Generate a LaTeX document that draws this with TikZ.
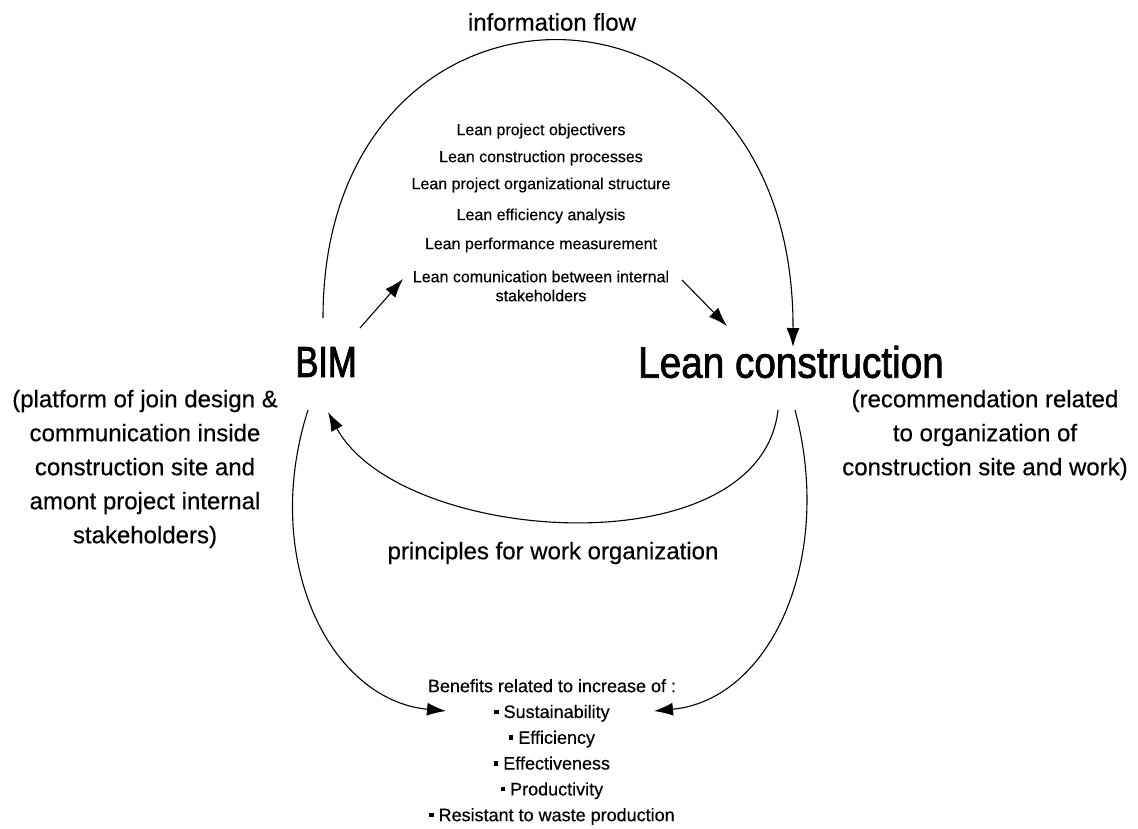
\documentclass[tikz,border=0pt]{standalone}
\usepackage{fontspec}
\setmainfont{Liberation Sans}[FakeBold=0.4]
\newfontfamily\bigfont{Liberation Sans}[FakeStretch=0.88,FakeBold=1.6]
\newfontfamily\bimfont{Liberation Sans}[FakeStretch=0.8,FakeBold=2.2]
\usetikzlibrary{arrows.meta}
\tikzset{
  lbl/.style={inner sep=0pt, align=center, text=black},
  item/.style={lbl, font=\fontsize{16}{19}\selectfont},
  conn/.style={line width=1.1pt, black, -{Latex[length=19pt,width=13pt]}},
}
\newcommand{\sqb}{\rule[0.22em]{0.24em}{0.24em}\ }
\begin{document}
\begin{tikzpicture}[x=1pt,y=-1pt]
\useasboundingbox[fill=white] (0,0) rectangle (1138,828);

% titles
\node[lbl, font=\fontsize{24}{28}\selectfont] (flow) at (552,22) {information flow};
\node[lbl, font=\bimfont\fontsize{43}{50}\selectfont] (bim) at (326,362) {BIM};
\node[lbl, font=\bigfont\fontsize{44}{50}\selectfont] (lean) at (791,362) {Lean construction};

% list
\node[item] (l1) at (541,131) {Lean project objectivers};
\node[item] (l2) at (541,158) {Lean construction processes};
\node[item] (l3) at (541,185) {Lean project organizational structure};
\node[item] (l4) at (541,216) {Lean efficiency analysis};
\node[item] (l5) at (541,245) {Lean performance measurement};
\node[item] (l6) at (541,286) {Lean comunication between internal\\stakeholders};

% side texts
\node[lbl, font=\fontsize{24}{34}\selectfont] (ptext) at (145,469)
  {(platform of join design \&\\communication inside\\construction site and\\amont project internal\\stakeholders)};
\node[lbl, font=\fontsize{24}{34}\selectfont] (rtext) at (985,435)
  {(recommendation related\\to organization of\\construction site and work)};
\node[lbl, font=\fontsize{24}{28}\selectfont] (princ) at (553,553) {principles for work organization};

% benefits
\node[lbl, font=\fontsize{18}{25.8}\selectfont] (ben) at (552,752)
  {Benefits related to increase of :\\\sqb Sustainability\\\sqb Efficiency\\\sqb Effectiveness\\\sqb Productivity\\\sqb Resistant to waste production};

% connector end points
\coordinate (bimTop) at (323,318);
\coordinate (leanTop) at (793,347);
\coordinate (bimA) at (360,328);
\coordinate (listA) at (403,279);
\coordinate (listB) at (682,280);
\coordinate (leanA) at (727,326);
\coordinate (leanB) at (778,410);
\coordinate (bimB) at (328,412);
\coordinate (bimC) at (308,410);
\coordinate (benL) at (446,711);
\coordinate (leanC) at (795,410);
\coordinate (benR) at (654,711);

% connectors
\draw[conn] (bimTop) .. controls (323,-55) and (794,-55) .. (leanTop);
\draw[conn] (bimA) -- (listA);
\draw[conn] (listB) -- (leanA);
\draw[conn] (leanB) .. controls (760,570) and (400,545) .. (bimB);
\draw[conn] (bimC) .. controls (260,560) and (330,700) .. (benL);
\draw[conn] (leanC) .. controls (835,560) and (770,700) .. (benR);
\end{tikzpicture}
\end{document}
